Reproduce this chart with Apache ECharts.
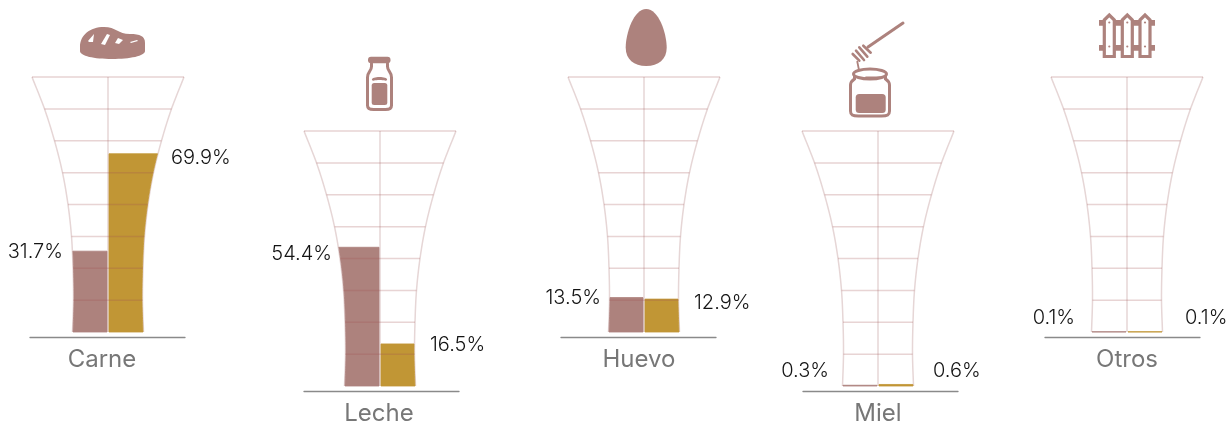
<!DOCTYPE html>
<html><head><meta charset="utf-8">
<style>html,body{margin:0;padding:0;background:#fff}#c{width:1230px;height:424px}</style>
<script src="https://cdn.jsdelivr.net/npm/echarts@6/dist/echarts.min.js"></script>
</head><body><div id="c"></div>
<script>
const categories = ['Carne', 'Leche', 'Huevo', 'Miel', 'Otros'];
const seriesBrown = [31.7, 54.4, 13.5, 0.3, 0.1];
const seriesGold = [69.9, 16.5, 12.9, 0.6, 0.1];

// layout only
const vaseCenter = [108, 380, 644, 878, 1127];
const vaseTop = [77, 131, 77, 131, 77];
const axisLeft = [30, 304, 561, 803, 1045];
const axisLen = 155, vaseH = 255;
const nameDx = [-6, -1, -5, 0, 0];
const leftLabelDx = [-45, -48, -43, -49, -52];
const rightLabelDx = [63, 50, 50, 55, 58];
const leftLabelDy = [1, 7, 0, -14, -14];
const rightLabelDy = [4, 1, 4, -13.5, -14];
const vaseProfile = [35.5, 34.5, 35, 36.5, 40, 45.5, 53.5, 63.5, 76];
const step = 100 / (vaseProfile.length - 1);

const BROWN = '#ad827d', GOLD = '#c19635', LINE = 'rgba(165,85,85,0.25)', EDGE = '#e6d6d6';
const FONT = 'Inter';

function halfWidth(v) {
  const t = Math.min(v / step, vaseProfile.length - 1.0001);
  const i = Math.floor(t), f = t - i, P = vaseProfile;
  const p1 = P[i], p2 = P[i + 1];
  const p0 = i > 0 ? P[i - 1] : 2 * p1 - p2;
  const p3 = i + 2 < P.length ? P[i + 2] : 2 * p2 - p1;
  return 0.5 * (2 * p1 + (p2 - p0) * f + (2 * p0 - 5 * p1 + 4 * p2 - p3) * f * f + (3 * p1 - p0 - 3 * p2 + p3) * f * f * f);
}

function ln(x1, y1, x2, y2, c, w) {
  return { type: 'line', shape: { x1, y1, x2, y2 }, style: { stroke: c || BROWN, lineWidth: w || 3, lineCap: 'round' } };
}
function poly(points, fill, stroke, w) {
  return { type: 'polygon', shape: { points }, style: { fill: fill || BROWN, stroke: stroke || null, lineWidth: w || 0 } };
}
function rrect(x, y, width, height, r, fill) {
  return { type: 'rect', shape: { x, y, width, height, r }, style: { fill: fill || BROWN } };
}
function ell(cx, cy, rx, ry, fill, stroke, w) {
  return { type: 'ellipse', shape: { cx, cy, rx, ry }, style: { fill: fill || BROWN, stroke: stroke || null, lineWidth: w || 0 } };
}
function pth(d, x, y, width, height, fill, stroke, w) {
  return { type: 'path', shape: { pathData: d, x, y, width, height, layout: 'cover' }, style: { fill: fill === undefined ? BROWN : fill, stroke: stroke || null, lineWidth: w || 0, lineCap: 'round' } };
}

// Icons: local coordinates, origin = icon top-left
const icons = [
  { dx: -28, dy: -50, items: [
    pth('M0 20 C0 8 10 0 24 0 C36 0 38 7 50 7 C60 7 65 9 65 16 L65 24 C65 29 50 32 32 32 C14 32 0 29 0 24 Z', 0, 0, 65, 32),
    poly([[8, 14], [14, 7], [13, 15], [9, 15]], '#fff'),
    poly([[21, 17], [27, 7], [30, 8], [25, 18]], '#fff'),
    poly([[35, 16], [38, 11], [43, 13], [39, 17]], '#fff'),
    poly([[50, 15], [57, 13], [58, 14], [51, 16]], '#fff')
  ] },
  { dx: -14, dy: -75, items: [
    pth('M4 0 L4 3 C4 8 0 8 0 14 L0 42 C0 45 2 46 6 46 L18 46 C22 46 24 45 24 42 L24 14 C24 8 20 8 20 3 L20 0', 1.5, 7.5, 24, 46, null, BROWN, 3),
    rrect(2, 0.7, 22.5, 6.6, 3),
    ell(13.5, 23.5, 7.6, 2.4),
    ell(13.5, 26, 7.8, 2, '#fff'),
    rrect(5.7, 27, 15.6, 22, 2.5)
  ] },
  { dx: -18.3, dy: -68, items: [
    pth('M50 0 C80 0 100 42 100 68 C100 88 80 100 50 100 C20 100 0 88 0 68 C0 42 20 0 50 0 Z', 0, 0, 41, 57)
  ] },
  { dx: -29, dy: -109, items: [
    ln(54, 1, 19, 25),
    ln(14.3, 23.7, 21.7, 30.7, BROWN, 2.6),
    ln(10.3, 25.3, 18.3, 34.7, BROWN, 2.6),
    ln(7, 28.7, 15, 38, BROWN, 2.6),
    ln(3.7, 32, 10.3, 38.7, BROWN, 2.6),
    ln(8.3, 39.7, 10, 48, BROWN, 1.8),
    pth('M4 0 L4 4 C1 6 0 7 0 10 L0 36 C0 40 2 41 8 41 L31 41 C37 41 39 40 39 36 L39 10 C39 7 38 6 35 4 L35 0', 1.5, 53, 39, 41, null, BROWN, 3),
    ell(21, 52, 16.5, 5, '#fff', BROWN, 3),
    ln(17, 55.5, 31, 55.5, BROWN, 2),
    rrect(6.7, 72, 30, 19, 3.5)
  ] },
  { dx: -28, dy: -64, items: [
    rrect(0, 7, 56, 5.7, 0),
    rrect(0, 32, 56, 5.7, 0),
    ...[10.3, 28.3, 46].flatMap(cx => [
      poly([[cx - 5, 7], [cx, 2], [cx + 5, 7], [cx + 5, 43.5], [cx - 5, 43.5]], '#fff', BROWN, 3.2),
      { type: 'circle', shape: { cx, cy: 9.5, r: 1.1 }, style: { fill: BROWN } },
      { type: 'circle', shape: { cx, cy: 33.5, r: 1.1 }, style: { fill: BROWN } }
    ])
  ] }
];

function barSeries(i, side, value, color) {
  return {
    type: 'custom', name: categories[i] + (side < 0 ? ' A' : ' B'), xAxisIndex: i, yAxisIndex: i,
    coordinateSystem: 'cartesian2d', silent: true, z: 4.5, animation: false,
    data: [[side, value]],
    renderItem(p, api) {
      const v = api.value(1), pts = [api.coord([side * 1, 0])];
      for (let k = 0; k < v; k += 1) pts.push(api.coord([side * (halfWidth(k) - 0.5), k]));
      pts.push(api.coord([side * (halfWidth(v) - 0.5), v]), api.coord([side * 1, v]));
      return { type: 'polygon', shape: { points: pts }, style: { fill: color, stroke: color, lineWidth: 0.8 } };
    }
  };
}

function labelSeries(i) {
  return {
    type: 'custom', name: categories[i] + ' etiquetas', xAxisIndex: i, yAxisIndex: i,
    coordinateSystem: 'cartesian2d', silent: true, z: 6, animation: false,
    data: [[-1, seriesBrown[i]], [1, seriesGold[i]]],
    renderItem(p, api) {
      const s = api.value(0), v = api.value(1);
      const c = api.coord([s < 0 ? leftLabelDx[i] : rightLabelDx[i], v]);
      return {
        type: 'text', x: c[0], y: c[1] + (s < 0 ? leftLabelDy[i] : rightLabelDy[i]),
        style: { text: v + '%', align: s < 0 ? 'right' : 'left', verticalAlign: 'middle',
          fontFamily: FONT, fontSize: 20, fontWeight: 300, fill: '#141414', letterSpacing: -0.2 }
      };
    }
  };
}

// outline, centre line and base sit under the fills
function outlineSeries(i) {
  return {
    type: 'custom', name: categories[i] + ' contorno', xAxisIndex: i, yAxisIndex: i,
    coordinateSystem: 'cartesian2d', silent: true, z: 2, animation: false,
    data: [[0, 100]],
    renderItem(p, api) {
      const edge = s => { const a = []; for (let k = 0; k <= 100; k += 2) a.push(api.coord([s * halfWidth(k), k])); return a; };
      const st = { stroke: EDGE, lineWidth: 1.5, fill: null };
      const t = api.coord([0, 100]), b = api.coord([0, 0]);
      return { type: 'group', children: [
        { type: 'polyline', shape: { points: edge(-1) }, style: st },
        { type: 'polyline', shape: { points: edge(1) }, style: st },
        { type: 'line', shape: { x1: t[0], y1: t[1], x2: b[0], y2: b[1] }, style: st }
      ] };
    }
  };
}

// row lines are drawn over the tall fills, the base row under the thin ones
function frameSeries(i) {
  return {
    type: 'custom', name: categories[i] + ' marco', xAxisIndex: i, yAxisIndex: i,
    coordinateSystem: 'cartesian2d', silent: true, z: 5, animation: false,
    data: [[0, 100]],
    renderItem(p, api) {
      const ch = [];
      for (let k = 1; k < vaseProfile.length; k++) {
        const v = k * step, a = api.coord([-halfWidth(v), v]), b = api.coord([halfWidth(v), v]);
        ch.push({ type: 'line', shape: { x1: a[0], y1: a[1], x2: b[0], y2: b[1] }, style: { stroke: LINE, lineWidth: 1.5 } });
      }
      const t = api.coord([0, 100]), b = api.coord([0, 0]);
      ch.push({ type: 'text', x: t[0] + nameDx[i], y: b[1] + 28,
        style: { text: categories[i], align: 'center', verticalAlign: 'middle', fontFamily: FONT,
          fontSize: 24, fontWeight: 400, fill: '#777777', letterSpacing: 1.4 } });
      const ic = icons[i];
      ch.push({ type: 'group', x: t[0] + ic.dx, y: t[1] + ic.dy, children: ic.items });
      return { type: 'group', children: ch };
    }
  };
}

const grid = [], xAxis = [], yAxis = [], series = [];
categories.forEach((name, i) => {
  grid.push({ left: axisLeft[i], width: axisLen, top: vaseTop[i], height: vaseH, containLabel: false });
  const mn = axisLeft[i] - vaseCenter[i];
  xAxis.push({ gridIndex: i, type: 'value', min: mn, max: mn + axisLen, offset: 5,
    splitLine: { show: false }, axisTick: { show: false }, axisLabel: { show: false },
    axisLine: { show: true, onZero: false, lineStyle: { color: '#8a8a8a', width: 1.3 } } });
  yAxis.push({ gridIndex: i, type: 'value', min: 0, max: 100, interval: step, show: false, splitLine: { show: false } });
  series.push(outlineSeries(i), frameSeries(i), barSeries(i, -1, seriesBrown[i], BROWN), barSeries(i, 1, seriesGold[i], GOLD), labelSeries(i));
});

const chart = echarts.init(document.getElementById('c'), null, { renderer: 'canvas' });
chart.setOption({ animation: false, backgroundColor: '#fff', grid, xAxis, yAxis, series });
</script></body></html>
